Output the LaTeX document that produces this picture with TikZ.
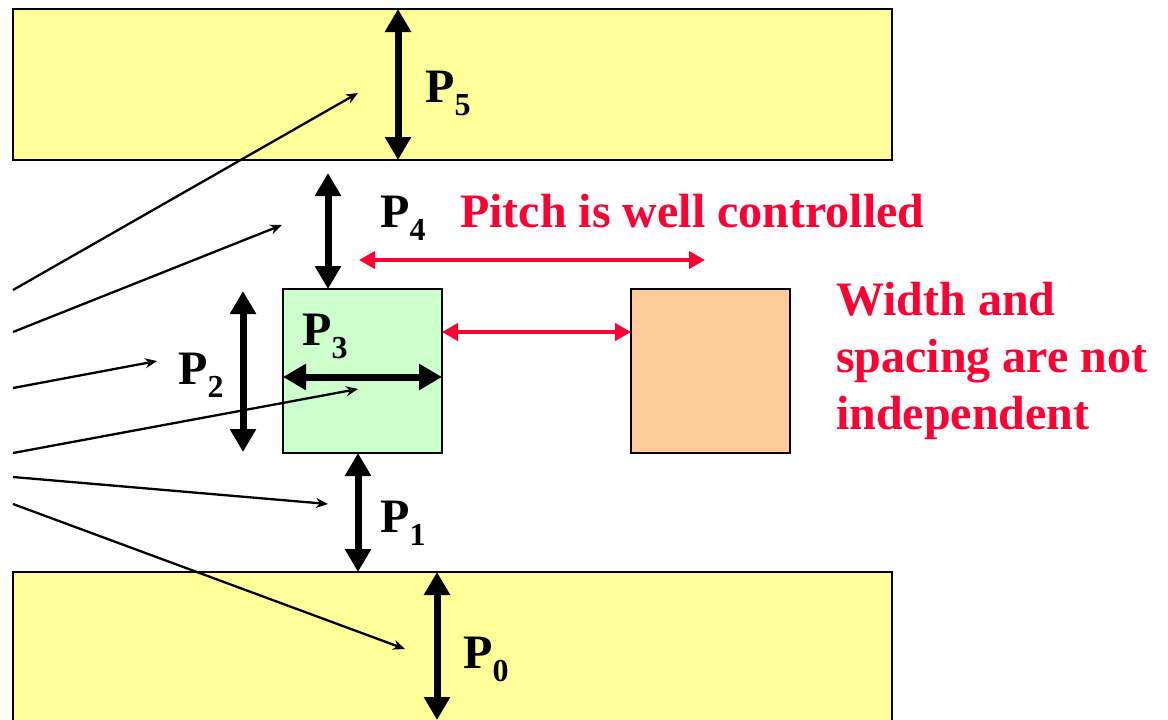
\documentclass[tikz,border=0pt]{standalone}
\usepackage{fontspec}
\setmainfont{Liberation Serif}
\usetikzlibrary{arrows.meta}
\definecolor{ylw}{HTML}{FFFF99}
\definecolor{grn}{HTML}{CCFFCC}
\definecolor{org}{HTML}{FFCC99}
\definecolor{rd}{RGB}{255,0,51}
\newcommand\psub[1]{\raisebox{-13pt}{\fontsize{32}{32}\selectfont #1}}
\begin{document}
\begin{tikzpicture}[x=1pt,y=-1pt,
  box/.style={draw=black,line width=2.5pt,inner sep=0pt,outer sep=0pt},
  dim/.style={line width=7pt,{Triangle[length=23pt,width=25pt]}-{Triangle[length=23pt,width=25pt]}},
  ray/.style={line width=2.3pt,-{Stealth[length=12pt,width=10pt]}},
  pitch/.style={draw=rd,line width=4pt,{Triangle[length=16pt,width=17pt]}-{Triangle[length=16pt,width=17pt]}},
  lbl/.style={anchor=base west,inner sep=0pt,font=\fontsize{48}{57}\selectfont\bfseries},
  note/.style={lbl,text=rd}
]
\useasboundingbox (0,0) rectangle (1168,720);
\clip (0,0) rectangle (1168,720);
% boxes
\node[box,fill=ylw,minimum width=879pt,minimum height=151pt] (top) at (452.5,84.5) {};
\node[box,fill=ylw,minimum width=879pt,minimum height=180pt] (bot) at (452.5,662) {};
\node[box,fill=grn,minimum width=159pt,minimum height=164pt] (g) at (362.5,371) {};
\node[box,fill=org,minimum width=159pt,minimum height=164pt] (o) at (710.5,371) {};
% ray coordinates
\coordinate (s1) at (13,290);  \coordinate (e1) at (358,93);
\coordinate (s2) at (13,332);  \coordinate (e2) at (282,225);
\coordinate (s3) at (13,388);  \coordinate (e3) at (157,361);
\coordinate (s4) at (13,453);  \coordinate (e4) at (358,389);
\coordinate (s5) at (13,477);  \coordinate (e5) at (328,504);
\coordinate (s6) at (13,504);  \coordinate (e6) at (405,649);
\draw[ray] (s1) -- (e1);
\draw[ray] (s2) -- (e2);
\draw[ray] (s3) -- (e3);
\draw[ray] (s4) -- (e4);
\draw[ray] (s5) -- (e5);
\draw[ray] (s6) -- (e6);
% dimension arrows
\coordinate (p4a) at (328,173);
\coordinate (p2a) at (243,291); \coordinate (p2b) at (243,452);
\coordinate (p0b) at (437,720);
\draw[dim] (top.north -| 398,0) -- (top.south -| 398,0);
\draw[dim] (p4a) -- (g.north -| p4a);
\draw[dim] (p2a) -- (p2b);
\draw[dim] (g.west |- 0,377) -- (g.east |- 0,377);
\draw[dim] (g.south -| 358,0) -- (bot.north -| 358,0);
\draw[dim] (bot.north -| p0b) -- (p0b);
% red arrows
\coordinate (pa) at (359,260); \coordinate (pb) at (705,260);
\draw[pitch] (pa) -- (pb);
\draw[pitch] (g.east |- 0,332) -- (o.west |- 0,332);
% labels
\node[lbl] (l5) at (425,102) {P\psub{5}};
\node[lbl] (l4) at (380,227) {P\psub{4}};
\node[lbl] (l3) at (302,345) {P\psub{3}};
\node[lbl] (l2) at (178,384) {P\psub{2}};
\node[lbl] (l1) at (380,532) {P\psub{1}};
\node[lbl] (l0) at (463,668) {P\psub{0}};
\node[note] (t1) at (460,227) {Pitch is well controlled};
\node[note] (t2) at (836,315) {Width and};
\node[note] (t3) at (836,372) {spacing are not};
\node[note] (t4) at (836,429) {independent};
\end{tikzpicture}
\end{document}
